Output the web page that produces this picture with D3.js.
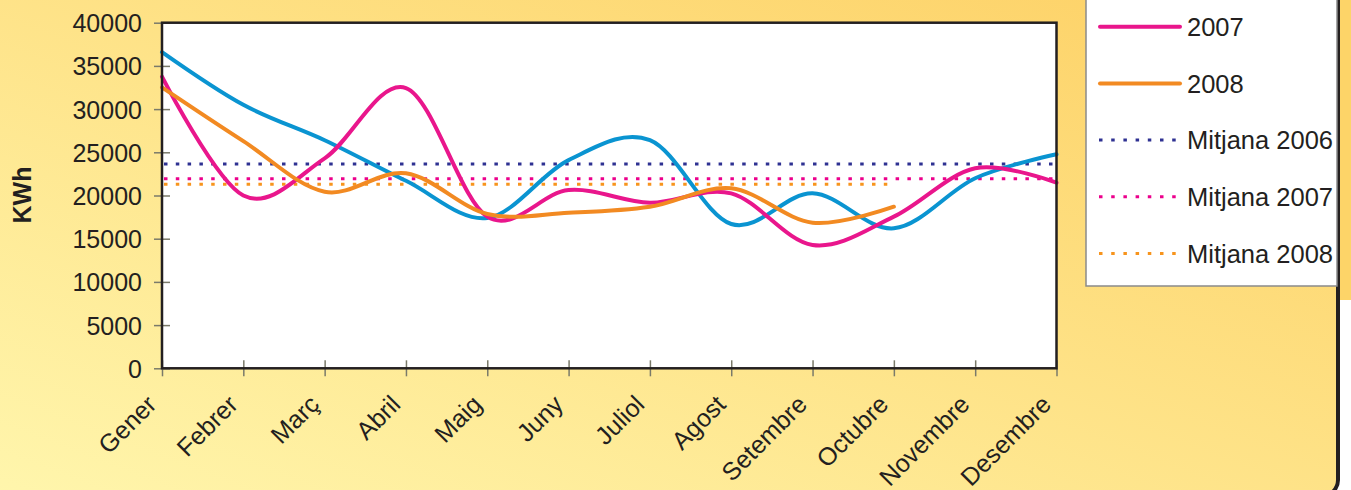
<!DOCTYPE html>
<html>
<head>
<meta charset="utf-8">
<script src="https://cdn.jsdelivr.net/npm/d3@7"></script>
<style>
  body { margin: 0; background: #fff; }
  svg text { font-family: "Liberation Sans", Arial, sans-serif; fill: #231f20; }
</style>
</head>
<body>
<svg id="chart" width="1351" height="490"></svg>
<script>
// months on the category axis
var months = ["Gener", "Febrer", "Març", "Abril", "Maig", "Juny", "Juliol", "Agost", "Setembre", "Octubre", "Novembre", "Desembre"];
var yTicks = [0, 5000, 10000, 15000, 20000, 25000, 30000, 35000, 40000];

// monthly consumption, KWh
var kwh2006 = [36600, 30500, 26400, 21700, 17400, 24100, 26400, 16700, 20250, 16200, 22000, 24770];
var kwh2007 = [33750, 20000, 24300, 32440, 17550, 20640, 19170, 20250, 14270, 17550, 23150, 21480];
var kwh2008 = [32520, 26300, 20440, 22570, 17860, 18010, 18700, 20830, 16850, 18700];

// yearly averages
var mitjana2006 = 23650;
var mitjana2007 = 21950;
var mitjana2008 = 21300;

var series = [
    {name: "2006", values: kwh2006, color: "#0a94d1"},
    {name: "2007", values: kwh2007, color: "#e9168c"},
    {name: "2008", values: kwh2008, color: "#f28a22"}
];
var averages = [
    {name: "Mitjana 2006", value: mitjana2006, months: 12, color: "#2e3192"},
    {name: "Mitjana 2007", value: mitjana2007, months: 12, color: "#ec008c"},
    {name: "Mitjana 2008", value: mitjana2008, months: 10, color: "#f7941d"}
];

var svg = d3.select("#chart");

// background frame with the yellow gradient
var defs = svg.append("defs");
var grad = defs.append("linearGradient")
    .attr("id", "bg")
    .attr("x1", "0").attr("y1", "1")
    .attr("x2", "1").attr("y2", "0");
grad.append("stop").attr("offset", "0%").attr("stop-color", "#fff6ad");
grad.append("stop").attr("offset", "100%").attr("stop-color", "#fdcf62");

svg.append("rect")
    .attr("x", 1300).attr("y", 0).attr("width", 51).attr("height", 300)
    .attr("fill", "#fdd468");

svg.append("rect")
    .attr("x", -30).attr("y", -30)
    .attr("width", 1368).attr("height", 526)
    .attr("rx", 16)
    .attr("fill", "url(#bg)")
    .attr("stroke", "#231f20")
    .attr("stroke-width", 4);

var plot = {left: 162, right: 1056.5, top: 22.7, bottom: 368.3};

var x = d3.scalePoint().domain(months).range([plot.left, plot.right]);
var y = d3.scaleLinear().domain([0, 40000]).range([plot.bottom, plot.top]);

// plot area
svg.append("rect")
    .attr("x", plot.left).attr("y", plot.top)
    .attr("width", plot.right - plot.left)
    .attr("height", plot.bottom - plot.top)
    .attr("fill", "#fff");

// y axis ticks + labels
var yAxis = svg.append("g")
    .attr("transform", "translate(" + plot.left + ",0)")
    .call(d3.axisLeft(y).tickValues(yTicks).tickSize(8).tickPadding(12).tickFormat(d3.format("d")));
yAxis.select(".domain").remove();
yAxis.selectAll(".tick line").attr("x2", 8).attr("x1", -8).attr("stroke", "#7a7a6a").attr("stroke-width", 1.5);
yAxis.selectAll(".tick text").attr("x", -20).attr("font-size", "25px").attr("dy", "0.36em");

// x axis ticks
var xAxis = svg.append("g")
    .attr("transform", "translate(0," + plot.bottom + ")")
    .call(d3.axisBottom(x).tickSize(8).tickFormat(""));
xAxis.select(".domain").remove();
xAxis.selectAll(".tick line").attr("y1", -8).attr("y2", 8).attr("stroke", "#7a7a6a").attr("stroke-width", 1.5);

svg.append("g").selectAll("text")
    .data(months)
    .join("text")
    .attr("transform", function(d){ return "translate(" + (x(d) - 4) + "," + 406 + ") rotate(-45)"; })
    .attr("text-anchor", "end")
    .attr("font-size", "25px")
    .text(function(d){ return d; });

// y axis title
svg.append("text")
    .attr("transform", "translate(31,195) rotate(-90)")
    .attr("text-anchor", "middle")
    .attr("font-size", "25px")
    .attr("font-weight", "bold")
    .text("KWh");

// average lines
svg.append("g").selectAll("line")
    .data(averages)
    .join("line")
    .attr("x1", plot.left + 2)
    .attr("x2", function(d){ return x(months[d.months - 1]); })
    .attr("y1", function(d){ return y(d.value); })
    .attr("y2", function(d){ return y(d.value); })
    .attr("stroke", function(d){ return d.color; })
    .attr("stroke-width", 3)
    .attr("stroke-dasharray", "3.5 8.3");

// smoothed monthly lines
var line = d3.line()
    .x(function(d, i){ return x(months[i]); })
    .y(function(d){ return y(d); })
    .curve(d3.curveCardinal.tension(0));

svg.append("g").selectAll("path")
    .data(series)
    .join("path")
    .attr("d", function(d){ return line(d.values); })
    .attr("fill", "none")
    .attr("stroke", function(d){ return d.color; })
    .attr("stroke-width", 4)
    .attr("stroke-linejoin", "round")
    .attr("stroke-linecap", "round");

// plot border
svg.append("rect")
    .attr("x", plot.left).attr("y", plot.top)
    .attr("width", plot.right - plot.left)
    .attr("height", plot.bottom - plot.top)
    .attr("fill", "none")
    .attr("stroke", "#231f20")
    .attr("stroke-width", 2.5);

// legend (the 2006 entry lies above the visible part of the picture)
var legItems = series.slice(1).map(function(s){ return {name: s.name, color: s.color, dotted: false}; })
    .concat(averages.map(function(a){ return {name: a.name, color: a.color, dotted: true}; }));
var legTop = 26.7, legStep = 56.7;

svg.append("rect")
    .attr("x", 1086).attr("y", -80)
    .attr("width", 251).attr("height", 366)
    .attr("fill", "#fff")
    .attr("stroke", "#8a8a8a")
    .attr("stroke-width", 1.5);

var leg = svg.append("g").selectAll("g")
    .data(legItems)
    .join("g")
    .attr("transform", function(d, i){ return "translate(0," + (legTop + i * legStep) + ")"; });

leg.append("line")
    .attr("x1", function(d){ return d.dotted ? 1099 : 1100; })
    .attr("x2", 1180)
    .attr("stroke", function(d){ return d.color; })
    .attr("stroke-width", function(d){ return d.dotted ? 3 : 4; })
    .attr("stroke-linecap", function(d){ return d.dotted ? "butt" : "round"; })
    .attr("stroke-dasharray", function(d){ return d.dotted ? "3.5 8.7" : null; });

leg.append("text")
    .attr("x", 1187)
    .attr("dy", "0.36em")
    .attr("font-size", "25.5px")
    .text(function(d){ return d.name; });
</script>
</body>
</html>
